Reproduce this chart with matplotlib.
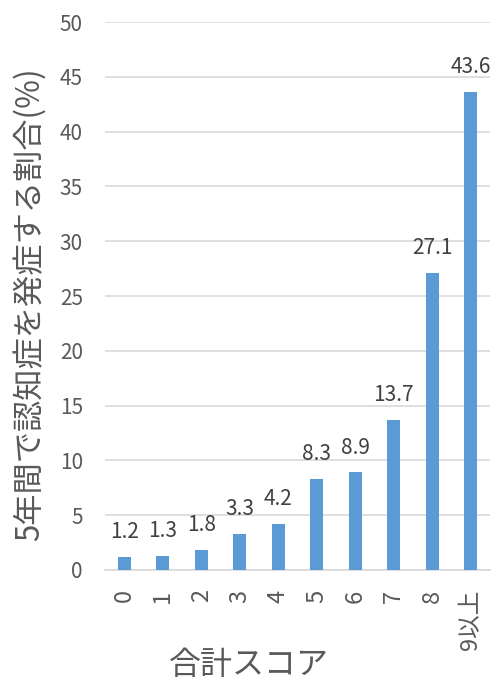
import numpy as np
import matplotlib.pyplot as plt

plt.rcParams['font.family'] = ['Noto Sans CJK JP', 'DejaVu Sans']

scores = ['0', '1', '2', '3', '4', '5', '6', '7', '8', '9以上']
rates = [1.2, 1.3, 1.8, 3.3, 4.2, 8.3, 8.9, 13.7, 27.1, 43.6]

text_color = '#595959'
grid_color = '#d9d9d9'

fig = plt.figure(figsize=(4.98, 6.84), dpi=100)
ax = fig.add_axes([0.211, 0.1667, 0.773, 0.801])

x = np.arange(len(scores))
bars = ax.bar(x, rates, width=0.34, color='#5b9bd5', zorder=3)
for b, v in zip(bars, rates):
    ax.annotate(f'{v:.1f}', (b.get_x() + b.get_width() / 2, v),
                xytext=(0, 10), textcoords='offset points',
                ha='center', va='bottom', fontsize=15, color='#404040')

ax.set_xlim(-0.5, len(scores) - 0.5)
ax.set_ylim(0, 50)
ax.set_yticks(np.arange(0, 51, 5))
ax.set_xticks(x)
ax.set_xticklabels(scores, rotation=90, va='top', ha='center')
ax.yaxis.grid(True, color=grid_color, linewidth=1.2, zorder=0)
ax.tick_params(axis='both', length=0, labelcolor=text_color)
ax.tick_params(axis='y', pad=16, labelsize=15)
ax.tick_params(axis='x', pad=14, labelsize=17)
for s in ['top', 'right', 'left']:
    ax.spines[s].set_visible(False)
ax.spines['bottom'].set_color(grid_color)
ax.spines['bottom'].set_linewidth(1.2)

# axis titles placed in figure coordinates
fig.text(29 / 498, 1 - 304 / 684, '5年間で認知症を発症する割合(%)', rotation=90,
         ha='center', va='center', fontsize=22.5, color=text_color)
fig.text(0.5, 1 - 665 / 684, '合計スコア', ha='center', va='center',
         fontsize=23, color=text_color)

fig.savefig('out.png', dpi=100)
